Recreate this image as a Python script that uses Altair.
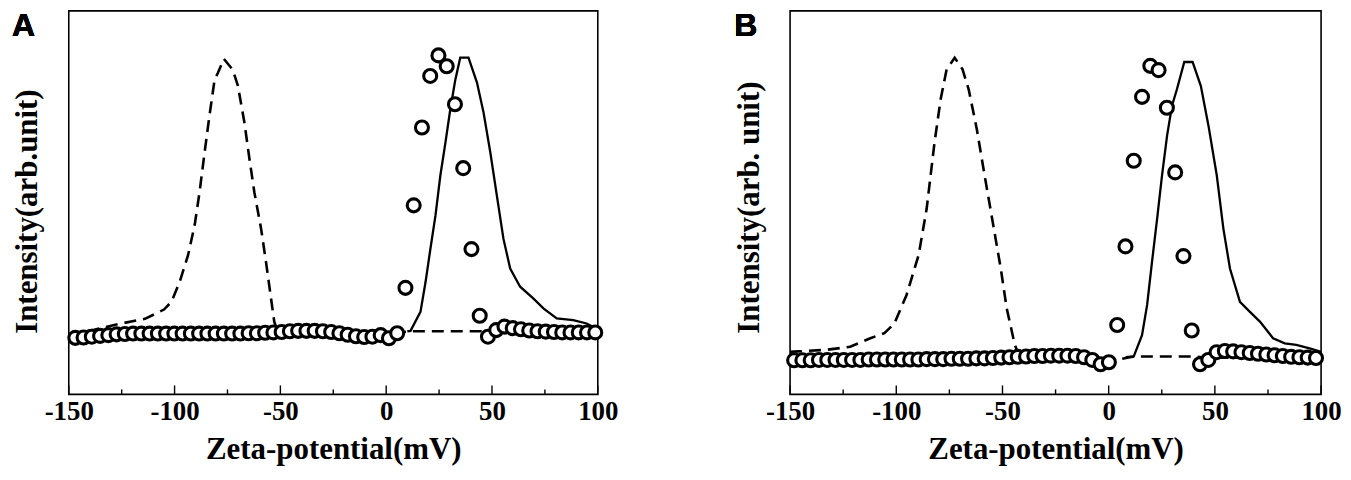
import altair as alt
import pandas as pd

# ---------------- data ----------------
X_TICKS = [-150, -100, -50, 0, 50, 100]
X_MINOR = [-125, -75, -25, 25, 75]

A_circ_x = [-146.9, -143.0, -139.1, -135.2, -131.3, -127.4, -123.5, -119.6, -115.7, -111.8,
            -107.9, -104.0, -100.1, -96.2, -92.3, -88.4, -84.5, -80.6, -76.7, -72.8,
            -68.9, -65.0, -61.1, -57.2, -53.3, -49.4, -45.5, -41.6, -37.7, -33.8,
            -29.9, -26.0, -22.1, -18.2, -14.3, -10.4, -6.5, -2.6, 1.3, 5.2,
            9.1, 13.0, 16.9, 20.8, 24.7, 28.6, 32.5, 36.4, 40.3, 44.2,
            48.1, 52.0, 55.9, 59.8, 63.7, 67.6, 71.5, 75.4, 79.3, 83.2,
            87.1, 91.0, 94.9, 98.8]
A_circ_y = [14.6, 14.7, 14.9, 15.1, 15.3, 15.5, 15.6, 15.7, 15.7, 15.7,
            15.7, 15.7, 15.7, 15.7, 15.7, 15.7, 15.7, 15.7, 15.7, 15.7,
            15.7, 15.8, 15.8, 15.9, 16.0, 16.1, 16.3, 16.4, 16.4, 16.4,
            16.3, 16.1, 15.8, 15.4, 15.0, 14.8, 14.9, 15.3, 14.5, 15.8,
            27.5, 48.8, 68.9, 82.2, 87.5, 84.7, 74.9, 58.4, 37.5, 20.3,
            14.9, 16.6, 17.5, 17.1, 16.8, 16.5, 16.3, 16.2, 16.1, 16.0,
            16.0, 16.0, 16.0, 16.0]
A_solid_x = [10, 11.5, 16.2, 18.6, 20.9, 23.3, 25.6, 28.0, 30.3, 32.7, 35.0, 38.9, 42.9,
             46.0, 49.2, 52.3, 55.4, 58.6, 63.3, 69.5, 74.3, 80.6, 88.4, 94.7, 100]
A_solid_y = [16.3, 16.4, 21.3, 29.0, 37.6, 46.2, 56.5, 65.0, 73.6, 81.3, 86.9, 86.9, 80.5,
             72.8, 62.5, 51.3, 40.2, 32.5, 27.8, 24.8, 22.2, 19.6, 19.2, 18.3, 16.8]
A_dash_x = [-150, -138, -128, -114, -105, -101.5, -97.6, -93.6, -90.5, -88.2, -85.8, -83.5,
            -81.1, -79.5, -76.7, -72.5, -70.1, -67, -64.6, -62.3, -59.1, -56.8, -54.4,
            -52.9, -51, -20, 0, 5, 11.5, 45, 50, 100]
A_dash_y = [15.6, 16.7, 18.0, 19.5, 21.9, 23.9, 29.0, 36.0, 43.7, 52.2, 62.5, 72.0,
            81.2, 83.0, 86.6, 83.8, 79.7, 70.2, 60.7, 52.2, 42.7, 34.2, 24.7,
            18.8, 15.8, 15.8, 15.6, 15.9, 16.3, 16.3, 16.0, 15.9]

B_circ_x = [-148.1, -144.2, -140.3, -136.4, -132.5, -128.6, -124.7, -120.8, -116.9, -113.0,
            -109.1, -105.2, -101.3, -97.4, -93.5, -89.6, -85.7, -81.8, -77.9, -74.0,
            -70.1, -66.2, -62.3, -58.4, -54.5, -50.6, -46.7, -42.8, -38.9, -35.0,
            -31.1, -27.2, -23.3, -19.4, -15.5, -11.6, -7.7, -3.8, 0.1, 4.0,
            7.9, 11.8, 15.7, 19.6, 23.5, 27.4, 31.3, 35.2, 39.1, 43.0,
            46.9, 50.8, 54.7, 58.6, 62.5, 66.4, 70.3, 74.2, 78.1, 82.0,
            85.9, 89.8, 93.7, 97.6]
B_circ_y = [8.8, 8.8, 8.8, 8.9, 8.9, 8.9, 8.9, 8.9, 8.9, 9.0,
            9.0, 9.0, 9.0, 9.0, 9.0, 9.0, 9.1, 9.1, 9.1, 9.2,
            9.2, 9.2, 9.3, 9.3, 9.4, 9.5, 9.6, 9.7, 9.8, 9.9,
            9.9, 10.0, 10.0, 10.0, 9.9, 9.6, 8.9, 7.8, 8.3, 17.9,
            38.2, 60.3, 76.8, 84.8, 83.7, 74.0, 57.3, 35.7, 16.5, 7.8,
            8.9, 10.9, 11.2, 11.1, 10.9, 10.7, 10.5, 10.3, 10.1, 9.9,
            9.7, 9.6, 9.5, 9.4]
B_solid_x = [8, 11.8, 15.7, 18.1, 20.4, 22.8, 25.1, 27.5, 29.8, 32.1, 35.6, 39.5, 43.4,
             47.0, 50.9, 54.0, 57.1, 61.8, 66.5, 71.2, 77.4, 82.9, 88.3, 94.6, 100]
B_solid_y = [9.6, 9.8, 15.3, 23.1, 34.2, 45.3, 56.5, 66.8, 74.5, 78.7, 85.8, 85.8, 79.6,
             69.3, 56.5, 42.8, 32.5, 23.9, 21.3, 18.8, 14.5, 13.2, 12.8, 11.9, 11.0]
B_dash_x = [-150, -146.2, -133, -121.7, -112.2, -105.6, -100.9, -95.2, -89.5, -85.7, -82,
            -79.1, -76.3, -72.5, -68.8, -65.9, -62.1, -58.4, -54.6, -50.8, -48, -44.2,
            -42.3, -30, -5, 3, 11.8, 40, 45, 100]
B_dash_y = [11.0, 11.1, 11.5, 12.3, 14.5, 15.8, 18.3, 25.6, 35.9, 47.9, 65.0,
            76.2, 83.9, 86.9, 83.9, 78.7, 68.5, 56.5, 44.5, 32.5, 22.2, 12.8,
            10.2, 9.8, 8.8, 8.8, 9.8, 9.8, 9.5, 9.3]

# ---------------- chart ----------------
H = 385
SERIF = "Liberation Serif"


def panel(label, ytitle, title_y, label_dx, cx, cy, sx, sy, dx, dy, width):
    xs = alt.Scale(domain=[-150, 100], nice=False, zero=False)
    ys = alt.Scale(domain=[0, 99], nice=False, zero=False)
    xaxis = alt.Axis(title="Zeta-potential(mV)", values=X_TICKS, ticks=False, domain=False,
                     grid=False, labelFlush=False, labelPadding=4, titlePadding=10,
                     labelExpr="'' + datum.value",
                     labelFont=SERIF, titleFont=SERIF, labelFontSize=27, titleFontSize=31,
                     labelFontWeight="bold", titleFontWeight="bold",
                     labelColor="black", titleColor="black")
    yaxis = alt.Axis(title=ytitle, labels=False, ticks=False, domain=False, grid=False,
                     titlePadding=25, titleFont=SERIF, titleFontSize=31,
                     titleFontWeight="bold", titleColor="black", titleY=title_y)

    circ = pd.DataFrame({"x": cx, "y": cy})
    solid = pd.DataFrame({"x": sx, "y": sy})
    dash = pd.DataFrame({"x": dx, "y": dy})
    major = pd.DataFrame({"x": X_TICKS})
    minor = pd.DataFrame({"x": X_MINOR})

    X = lambda: alt.X("x:Q", scale=xs, axis=xaxis)
    Y = lambda: alt.Y("y:Q", scale=ys, axis=yaxis)

    l_solid = alt.Chart(solid).mark_line(color="black", strokeWidth=2.3).encode(x=X(), y=Y())
    l_dash = alt.Chart(dash).mark_line(color="black", strokeWidth=2.6,
                                        strokeDash=[12, 7]).encode(x=X(), y=Y())
    pts = alt.Chart(circ).mark_point(shape="circle", filled=False, fill="white",
                                     fillOpacity=1, stroke="black", strokeWidth=3.1,
                                     size=170, opacity=1).encode(x=X(), y=Y())
    t_major = alt.Chart(major).mark_rule(color="black", strokeWidth=1.4).encode(
        x=X(), y=alt.value(H), y2=alt.value(H - 9))
    t_minor = alt.Chart(minor).mark_rule(color="black", strokeWidth=1.4).encode(
        x=X(), y=alt.value(H), y2=alt.value(H - 5))
    lab = alt.Chart(major).mark_text(text=label, font="Liberation Sans", fontSize=32,
                                     fontWeight="bold", align="left", baseline="top",
                                     color="black").encode(
        x=alt.value(label_dx), y=alt.value(0))

    return alt.layer(l_solid, l_dash, pts, t_major, t_minor, lab).properties(
        width=width, height=H)


A = panel("A", "Intensity(arb.unit)", 201, -57,
          A_circ_x, A_circ_y, A_solid_x, A_solid_y, A_dash_x, A_dash_y, 531)
B = panel("B", "Intensity(arb. unit)", 197, -56,
          B_circ_x, B_circ_y, B_solid_x, B_solid_y, B_dash_x, B_dash_y, 533)

chart = alt.hconcat(A, B, spacing=193, bounds="flush").properties(
    padding={"left": 3, "top": 0, "right": 0, "bottom": 0},
    background="white",
).configure_view(stroke="black", strokeWidth=1.6)

chart.save("out.html", embed_options={"renderer": "svg", "actions": False})
